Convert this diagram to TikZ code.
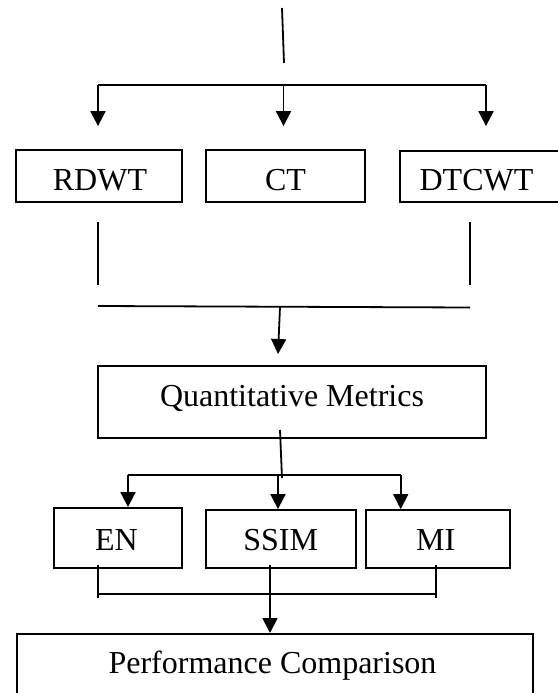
\documentclass[tikz,border=0pt]{standalone}
\usepackage{fontspec}
\setmainfont{Liberation Serif}
\usetikzlibrary{arrows.meta}
\tikzset{
  box/.style={draw, line width=1.8pt, rectangle, inner sep=0pt},
  lbl/.style={inner sep=0pt, anchor=base, font=\fontsize{32}{38}\selectfont},
  ln/.style={line width=1.8pt},
  arr/.style={line width=1.8pt, -{Triangle[width=15pt,length=15pt]}},
}
\begin{document}
\begin{tikzpicture}[x=1pt,y=-1pt]
\useasboundingbox (0,0) rectangle (557,693);
% boxes
\node[box, minimum width=166pt, minimum height=52pt] (rdwt) at (99,176) {};
\node[box, minimum width=159pt, minimum height=52pt] (ct) at (285.5,176) {};
\node[box, minimum width=160pt, minimum height=51pt] (dtcwt) at (480,176.5) {};
\node[box, minimum width=388pt, minimum height=72pt] (qm) at (292,402) {};
\node[box, minimum width=128pt, minimum height=60pt] (en) at (118,538) {};
\node[box, minimum width=150pt, minimum height=58pt] (ssim) at (281,539) {};
\node[box, minimum width=144pt, minimum height=58pt] (mi) at (438,539) {};
\node[box, minimum width=516pt, minimum height=63pt, anchor=north west] (pc) at (16,633) {};
% labels
\node[lbl] (rdwtt) at (100,190) {RDWT};
\node[lbl] (ctt) at (285.5,190) {CT};
\node[lbl] (dtcwtt) at (476.5,190) {DTCWT};
\node[lbl] (qmt) at (292,406.7) {Quantitative Metrics};
\node[lbl] (ent) at (116.5,550) {EN};
\node[lbl] (ssimt) at (280.7,550) {SSIM};
\node[lbl] (mit) at (435.7,550) {MI};
\node[lbl] (pct) at (272.5,673) {Performance Comparison};
% top part
\coordinate (t1) at (282,8);
\coordinate (t2) at (284,63);
\draw[ln] (t1) -- (t2);
\coordinate (bL) at (98,85);
\coordinate (bM) at (283.5,85);
\coordinate (bR) at (486,85);
\draw[ln] (bL) -- (bR);
\draw[arr, shorten >=23pt] (bL) -- (bL |- rdwt.north);
\draw[arr, shorten >=23pt] (bM) -- (bM |- ct.north);
\draw[arr, shorten >=24pt] (bR) -- (bR |- dtcwt.north);
% middle
\coordinate (l1a) at (98,222); \coordinate (l1b) at (98,285);
\coordinate (l2a) at (469.6,222); \coordinate (l2b) at (469.6,285);
\draw[ln] (l1a) -- (l1b);
\draw[ln] (l2a) -- (l2b);
\coordinate (h1) at (98,306); \coordinate (h2) at (470,307.5);
\draw[ln] (h1) -- (h2);
\coordinate (m1) at (280,307); \coordinate (m2) at (278,354);
\draw[arr] (m1) -- (m2);
% metrics split
\coordinate (q1) at (280,430); \coordinate (q2) at (282,478);
\draw[ln] (q1) -- (q2);
\coordinate (sL) at (128,475); \coordinate (sM) at (278,475); \coordinate (sR) at (400.7,475);
\draw[ln] (sL) -- (sR);
\draw[arr] (sL) -- (sL |- en.north);
\draw[arr] (sM) -- (sM |- ssim.north);
\draw[arr] (sR) -- (sR |- mi.north);
% bottom merge
\coordinate (e1) at (98,565); \coordinate (e2) at (98,598);
\coordinate (i1) at (436,565); \coordinate (i2) at (436,598);
\draw[ln] (e1) -- (e2);
\draw[ln] (i1) -- (i2);
\coordinate (j1) at (98,594); \coordinate (j2) at (436,594);
\draw[ln] (j1) -- (j2);
\coordinate (s1) at (270,565);
\draw[arr] (s1) -- (s1 |- pc.north);
\end{tikzpicture}
\end{document}
